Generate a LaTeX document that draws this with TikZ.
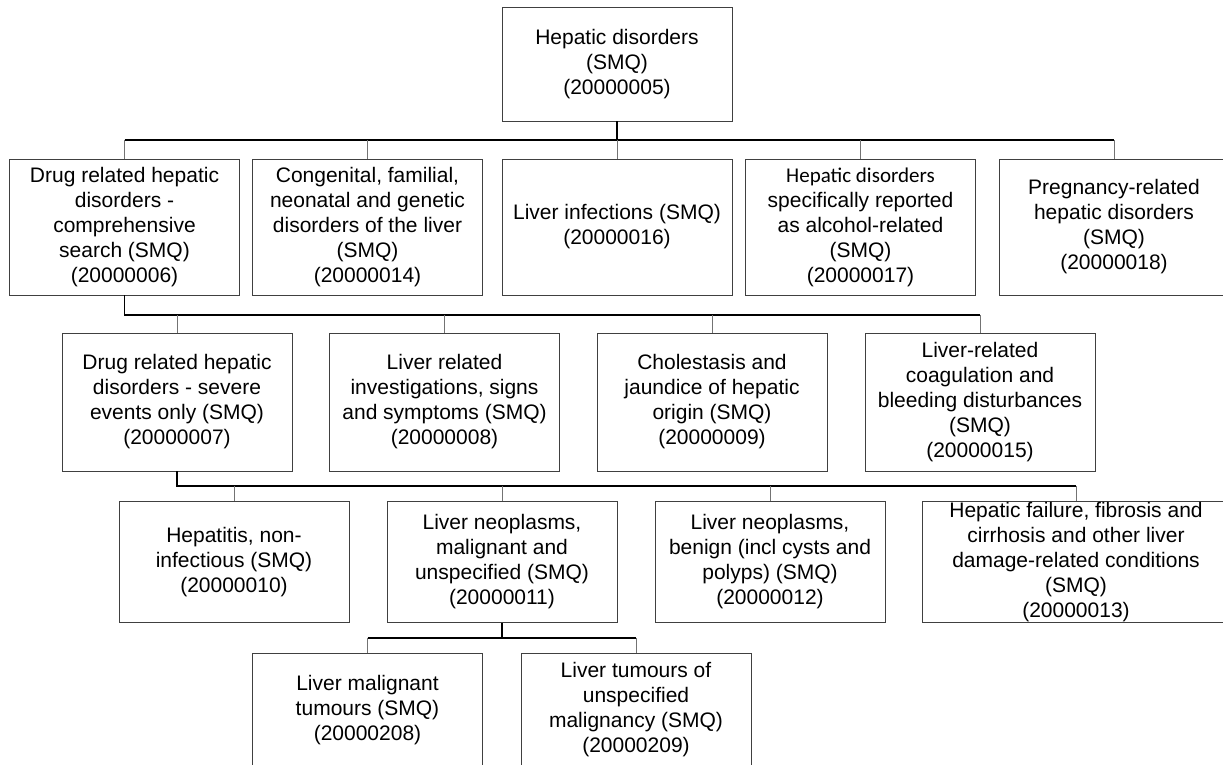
\documentclass[tikz,border=0pt]{standalone}
\usepackage{fontspec}
\setmainfont{Liberation Sans}
\newfontfamily\calfont{Carlito}
\usetikzlibrary{calc}
\begin{document}
\begin{tikzpicture}[x=1pt,y=-1pt,
  smq/.style={draw=black!75,line width=0.9pt,inner sep=0pt,align=center,
    minimum width=230pt,font=\fontsize{21}{25}\selectfont},
  bus/.style={line width=1.8pt,black},
  drop/.style={line width=1pt,black!55}]
  \useasboundingbox[fill=white] (0,0) rectangle (1223,765);
  % top
  \node[smq,minimum height=114pt] (root) at (617,64) {Hepatic disorders\\(SMQ)\\(20000005)};
  % first row
  \node[smq,minimum height=136pt] (a1) at (124.5,227) {Drug related hepatic\\disorders -\\comprehensive\\search (SMQ)\\(20000006)};
  \node[smq,minimum height=136pt] (a2) at (367.5,227) {Congenital, familial,\\neonatal and genetic\\disorders of the liver\\(SMQ)\\(20000014)};
  \node[smq,minimum height=136pt] (a3) at (617,227) {Liver infections (SMQ)\\(20000016)};
  \node[smq,minimum height=136pt] (a4) at (860.5,227) {{\calfont Hepatic disorders}\\specifically reported\\as alcohol-related\\(SMQ)\\(20000017)};
  \node[smq,minimum height=136pt] (a5) at (1114,227) {Pregnancy-related\\hepatic disorders\\(SMQ)\\(20000018)};
  % second row
  \node[smq,minimum height=138pt] (b1) at (177,402) {Drug related hepatic\\disorders - severe\\events only (SMQ)\\(20000007)};
  \node[smq,minimum height=138pt] (b2) at (444.5,402) {Liver related\\investigations, signs\\and symptoms (SMQ)\\(20000008)};
  \node[smq,minimum height=138pt] (b3) at (712,402) {Cholestasis and\\jaundice of hepatic\\origin (SMQ)\\(20000009)};
  \node[smq,minimum height=138pt] (b4) at (980,402) {Liver-related\\coagulation and\\bleeding disturbances\\(SMQ)\\(20000015)};
  % third row
  \node[smq,minimum height=121pt] (c1) at (234,562) {Hepatitis, non-\\infectious (SMQ)\\(20000010)};
  \node[smq,minimum height=121pt] (c2) at (502,562) {Liver neoplasms,\\malignant and\\unspecified (SMQ)\\(20000011)};
  \node[smq,minimum height=121pt] (c3) at (770,562) {Liver neoplasms,\\benign (incl cysts and\\polyps) (SMQ)\\(20000012)};
  \node[smq,minimum height=121pt,minimum width=308pt] (c4) at (1076,562) {Hepatic failure, fibrosis and\\cirrhosis and other liver\\damage-related conditions\\(SMQ)\\(20000013)};
  % fourth row
  \node[smq,minimum height=114pt] (d1) at (367.5,710) {Liver malignant\\tumours (SMQ)\\(20000208)};
  \node[smq,minimum height=114pt] (d2) at (636,710) {Liver tumours of\\unspecified\\malignancy (SMQ)\\(20000209)};
  % buses
  \coordinate (bus1) at (0,140);
  \coordinate (bus2) at (0,315);
  \coordinate (bus3) at (0,486);
  \coordinate (bus4) at (0,638);
  \draw[bus] (root.south) -- (root |- bus1);
  \draw[bus] (a1 |- bus1) -- (a5 |- bus1);
  \foreach \n in {a1,a2,a3,a4,a5}
    \draw[drop] (\n.north) -- (\n |- bus1);
  \draw[bus] (a1.south) -- (a1 |- bus2) -- (b4 |- bus2);
  \foreach \n in {b1,b2,b3,b4}
    \draw[drop] (\n.north) -- (\n |- bus2);
  \draw[bus] (b1.south) -- (b1 |- bus3) -- (c4 |- bus3);
  \foreach \n in {c1,c2,c3,c4}
    \draw[drop] (\n.north) -- (\n |- bus3);
  \draw[bus] (c2.south) -- (c2 |- bus4);
  \draw[bus] (d1 |- bus4) -- (d2 |- bus4);
  \foreach \n in {d1,d2}
    \draw[drop] (\n.north) -- (\n |- bus4);
\end{tikzpicture}
\end{document}
